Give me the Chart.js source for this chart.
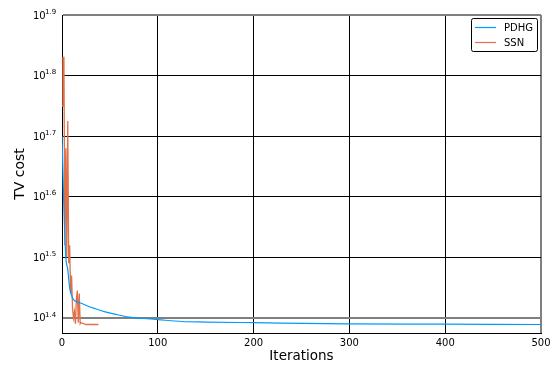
<!DOCTYPE html>
<html>
<head>
<meta charset="utf-8">
<script src="https://cdn.jsdelivr.net/npm/chart.js@4.4.1/dist/chart.umd.min.js"></script>
<style>
  html, body { margin: 0; padding: 0; background: #fff; }
  #wrap { width: 556px; height: 365px; }
</style>
</head>
<body>
<div id="wrap"><canvas id="chart" width="556" height="365"></canvas></div>
<script>
// valores
const pdhgIter = [0, 2, 4, 6, 8, 10, 12, 16, 20, 26, 35, 45, 55, 70, 85, 100, 125, 150, 200, 300, 400, 500];
const pdhgCost = [50.12, 38.02, 31.62, 30.20, 28.18, 27.35, 26.92, 26.67, 26.55, 26.30, 26.00, 25.70, 25.47, 25.18, 25.06, 24.95, 24.77, 24.72, 24.66, 24.55, 24.52, 24.49];

const ssnIter = [0, 1, 2, 3, 4, 5, 6, 7, 8, 9, 10, 11, 12, 13, 14, 15, 16, 17, 18, 19, 20, 25, 30, 38];
const ssnCost = [56.2, 67.61, 67.61, 33.11, 47.86, 31.62, 53.09, 30.90, 33.11, 27.54, 29.51, 26.00, 25.12, 25.70, 24.55, 26.92, 27.86, 24.66, 27.54, 24.55, 24.66, 24.49, 24.49, 24.49];

const xTicks = [0, 100, 200, 300, 400, 500];
const yExponents = ['1.4', '1.5', '1.6', '1.7', '1.8', '1.9'];
const yMin = 23.71, yMax = 79.43;

const azul = '#009AFA';
const naranja = '#E26F46';

function gridColor(ctx, edges) {
    const v = ctx.tick ? ctx.tick.value : null;
    return edges.includes(v) ? '#808080' : '#000000';
}

// etiquetas 10^x dibujadas a mano (superindice)
const expLabels = {
    id: 'expLabels',
    afterDraw(chart) {
        const c = chart.ctx;
        const y = chart.scales.y;
        c.save();
        c.fillStyle = '#000';
        yExponents.forEach(e => {
            const py = y.getPixelForValue(Math.pow(10, parseFloat(e)));
            c.font = '10px "DejaVu Sans"';
            c.textAlign = 'left';
            c.textBaseline = 'middle';
            c.fillText('10', 33, py + 1);
            c.font = '7px "DejaVu Sans"';
            c.fillText(e, 45, py - 3);
        });
        c.restore();
    }
};

const legendBox = {
    id: 'legendBox',
    afterDraw(chart) {
        const c = chart.ctx;
        c.save();
        c.fillStyle = '#fff';
        c.strokeStyle = '#000';
        c.lineWidth = 1;
        c.beginPath();
        c.roundRect(471.5, 18.5, 66, 33, 2);
        c.fill();
        c.stroke();
        const items = [['PDHG', azul, 27], ['SSN', naranja, 42]];
        items.forEach(([txt, col, yy]) => {
            c.strokeStyle = col;
            c.lineWidth = 1.2;
            c.beginPath();
            c.moveTo(475, yy + 0.5);
            c.lineTo(496, yy + 0.5);
            c.stroke();
            c.fillStyle = '#000';
            c.font = '10px "DejaVu Sans"';
            c.textBaseline = 'middle';
            c.fillText(txt, 504, yy + 1);
        });
        c.restore();
    }
};

new Chart(document.getElementById('chart'), {
    type: 'line',
    data: {
        datasets: [
            { label: 'PDHG', data: pdhgIter.map((x, i) => ({ x: x, y: pdhgCost[i] })), borderColor: azul, borderWidth: 1.2, pointRadius: 0, tension: 0.3, cubicInterpolationMode: 'monotone' },
            { label: 'SSN', data: ssnIter.map((x, i) => ({ x: x, y: ssnCost[i] })), borderColor: naranja, borderWidth: 1.3, pointRadius: 0, tension: 0 }
        ]
    },
    options: {
        responsive: false,
        animation: false,
        layout: { padding: { top: 15, right: 15, left: 0, bottom: 0 } },
        plugins: { legend: { display: false }, tooltip: { enabled: false } },
        scales: {
            x: {
                type: 'linear', min: 0, max: 500,
                afterBuildTicks: s => { s.ticks = xTicks.map(v => ({ value: v })); },
                afterFit: s => { s.height = 32; },
                ticks: { color: '#000', font: { family: 'DejaVu Sans', size: 10 }, padding: 4, maxRotation: 0 },
                grid: { color: ctx => gridColor(ctx, [500]), lineWidth: ctx => (ctx.tick && ctx.tick.value === 500 ? 2 : 1), drawTicks: false },
                border: { color: '#000', width: 1 },
                title: { display: true, text: 'Iterations', color: '#000', font: { family: 'DejaVu Sans', size: 13.5 }, padding: { top: 2, bottom: 0 } }
            },
            y: {
                type: 'logarithmic', min: yMin, max: yMax,
                afterBuildTicks: s => { s.ticks = yExponents.map(e => ({ value: Math.pow(10, parseFloat(e)) })); },
                afterFit: s => { s.width = 62; },
                ticks: { display: false },
                grid: {
                    color: ctx => gridColor(ctx, [Math.pow(10, 1.4), Math.pow(10, 1.9)]),
                    lineWidth: ctx => (ctx.tick && (ctx.tick.value === Math.pow(10, 1.4) || ctx.tick.value === Math.pow(10, 1.9)) ? 2 : 1),
                    drawTicks: false
                },
                border: { color: '#000', width: 1 },
                title: { display: true, text: 'TV cost', color: '#000', font: { family: 'DejaVu Sans', size: 14 }, padding: { top: 12, bottom: 0 } }
            }
        }
    },
    plugins: [expLabels, legendBox]
});
</script>
</body>
</html>
